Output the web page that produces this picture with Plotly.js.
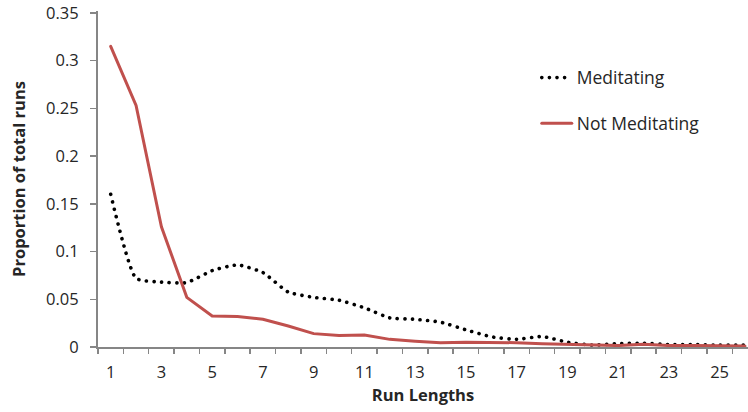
<!DOCTYPE html>
<html><head><meta charset="utf-8">
<script src="https://cdn.plot.ly/plotly-3.0.1.min.js"></script>
<style>html,body{margin:0;padding:0;background:#fff}
.scatterlayer .js-line{stroke-linecap:round}
.legend .js-line{stroke-linecap:round}
</style>
</head><body>
<div id="chart" style="width:748px;height:412px"></div>
<script>
const runLengths = [1,2,3,4,5,6,7,8,9,10,11,12,13,14,15,16,17,18,19,20,21,22,23,24,25,26];
const meditating = [0.160,0.072,0.068,0.0675,0.080,0.086,0.078,0.0575,0.052,0.049,0.041,0.0305,0.029,0.026,0.018,0.0107,0.008,0.011,0.005,0.002,0.0035,0.004,0.0025,0.0025,0.002,0.002];
const notMeditating = [0.315,0.253,0.126,0.052,0.0325,0.032,0.029,0.022,0.014,0.012,0.0125,0.008,0.006,0.0045,0.005,0.005,0.0045,0.0035,0.003,0.002,0.0015,0.003,0.0015,0.0015,0.001,0.001];
const xTickVals = [1,3,5,7,9,11,13,15,17,19,21,23,25];
const yTickVals = [0,0.05,0.1,0.15,0.2,0.25,0.3,0.35];
const yTickText = ['0','0.05','0.1','0.15','0.2','0.25','0.3','0.35'];

const font = "'Open Sans', 'Noto Sans', sans-serif";
const traces = [
  {x: runLengths, y: meditating, name: 'Meditating', mode: 'lines', legendgroup: 'a',
   line: {color: '#000000', width: 3.6, dash: '0.1px,7.5px', shape: 'spline', smoothing: 0.5}},
  {x: runLengths, y: notMeditating, name: 'Not Meditating', mode: 'lines', legendgroup: 'b',
   line: {color: '#C0504D', width: 3}}
];
const layout = {
  width: 748, height: 412,
  margin: {l: 98, r: 0, t: 11, b: 65},
  paper_bgcolor: '#fff', plot_bgcolor: '#fff',
  font: {family: font, color: '#262626', size: 16},
  showlegend: true,
  legend: {x: 0.675, y: 0.855, xanchor: 'left', yanchor: 'top', traceorder: 'grouped',
           tracegroupgap: 20, font: {size: 17.5, color: '#262626'}, bgcolor: 'rgba(0,0,0,0)'},
  xaxis: {
    range: [0.5, 26.12], tickmode: 'array', tickvals: xTickVals, ticks: '',
    showgrid: false, zeroline: false, showline: true, linecolor: '#868686', linewidth: 2,
    tickfont: {size: 16.5, color: '#262626'}, ticklabelstandoff: 9, ticklabeloverflow: 'allow',
    minor: {tick0: 0.5, dtick: 1, ticks: 'outside', ticklen: 5, tickcolor: '#868686', tickwidth: 1.5, showgrid: false},
    title: {text: '<b>Run Lengths</b>', font: {size: 16.5, color: '#262626'}, standoff: 6}
  },
  yaxis: {
    range: [0, 0.352], tickmode: 'array', tickvals: yTickVals, ticktext: yTickText,
    ticks: 'outside', ticklen: 6, tickcolor: '#868686', tickwidth: 1.5,
    showgrid: false, zeroline: false, showline: true, linecolor: '#868686', linewidth: 2,
    tickfont: {size: 16.5, color: '#262626'}, ticklabelstandoff: 8, ticklabeloverflow: 'allow',
    title: {text: '<b>Proportion of total runs</b>', font: {size: 16.5, color: '#262626'}, standoff: 16}
  }
};
Plotly.newPlot('chart', traces, layout, {displayModeBar: false, staticPlot: true});
</script>
</body></html>
